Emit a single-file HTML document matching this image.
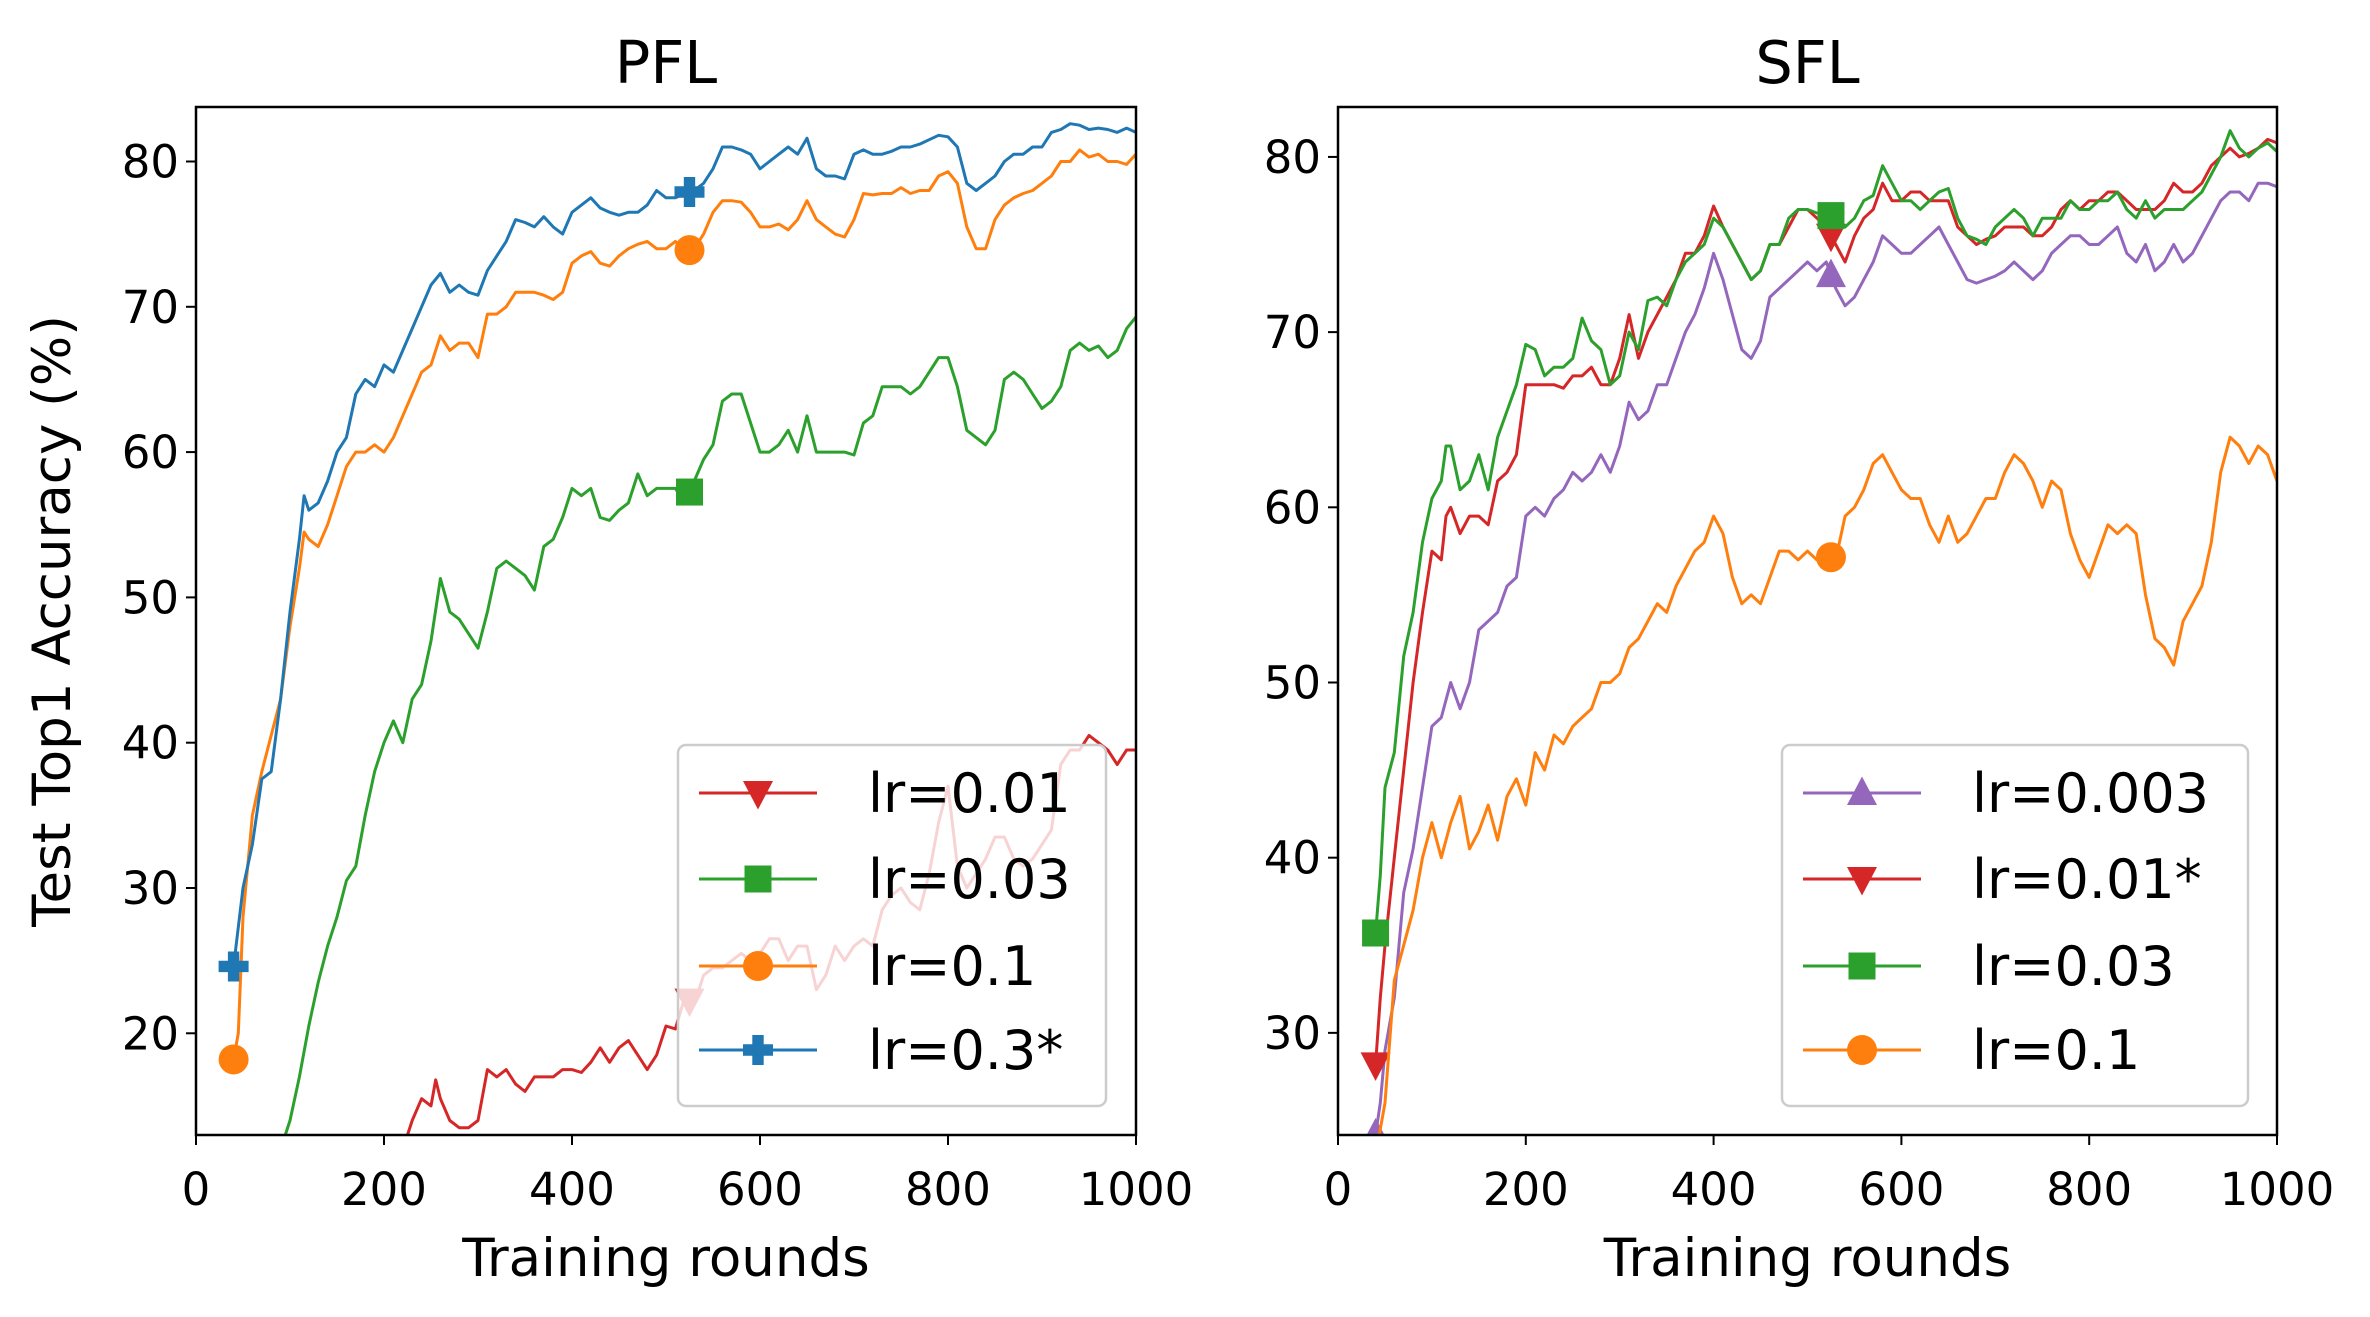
<!DOCTYPE html>
<html><head><meta charset="utf-8"><style>
html,body{margin:0;padding:0;background:#fff;overflow:hidden;}
svg{display:block;font-family:"DejaVu Sans","Liberation Sans",sans-serif;}
</style></head><body>
<svg id="chart" width="2370" height="1317" viewBox="0 0 2370 1317"></svg>
<script>
// ---- PFL data ----
const pflBlueX=[40,50,60,70,80,90,100,110,115,120,130,140,150,160,170,180,190,200,210,220,230,240,250,260,270,280,290,300,310,320,330,340,350,360,370,380,390,400,410,420,430,440,450,460,470,480,490,500,510,520,530,540,550,560,570,580,590,600,610,620,630,640,650,660,670,680,690,700,710,720,730,740,750,760,770,780,790,800,810,820,830,840,850,860,870,880,890,900,910,920,930,940,950,960,970,980,990,1000];
const pflBlueY=[24.6,30,33,37.5,38,43,49,54,57,56,56.5,58,60,61,64,65,64.5,66,65.5,67,68.5,70,71.5,72.3,71,71.5,71,70.8,72.5,73.5,74.5,76,75.8,75.5,76.2,75.5,75,76.5,77,77.5,76.8,76.5,76.3,76.5,76.5,77,78,77.5,77.5,77.8,78,78.5,79.5,81,81,80.8,80.5,79.5,80,80.5,81,80.5,81.6,79.5,79,79,78.8,80.5,80.8,80.5,80.5,80.7,81,81,81.2,81.5,81.8,81.7,81,78.5,78,78.5,79,80,80.5,80.5,81,81,82,82.2,82.6,82.5,82.2,82.3,82.2,82,82.3,82];
const pflOrangeX=[40,45,50,60,70,80,90,100,110,115,120,130,140,150,160,170,180,190,200,210,220,230,240,250,260,270,280,290,300,310,320,330,340,350,360,370,380,390,400,410,420,430,440,450,460,470,480,490,500,510,520,530,540,550,560,570,580,590,600,610,620,630,640,650,660,670,680,690,700,710,720,730,740,750,760,770,780,790,800,810,820,830,840,850,860,870,880,890,900,910,920,930,940,950,960,970,980,990,1000];
const pflOrangeY=[18.2,20,28,35,38,40.5,43,48,52,54.5,54,53.5,55,57,59,60,60,60.5,60,61,62.5,64,65.5,66,68,67,67.5,67.5,66.5,69.5,69.5,70,71,71,71,70.8,70.5,71,73,73.5,73.8,73,72.8,73.5,74,74.3,74.5,74,74,74.5,73.8,74,75,76.5,77.3,77.3,77.2,76.5,75.5,75.5,75.7,75.3,76,77.3,76,75.5,75,74.8,76,77.8,77.7,77.8,77.8,78.2,77.8,78,78,79,79.3,78.5,75.5,74,74,76,77,77.5,77.8,78,78.5,79,80,80,80.8,80.3,80.5,80,80,79.8,80.5];
const pflGreenX=[40,95,100,110,120,130,140,150,160,170,180,190,200,210,220,230,240,250,260,270,280,290,300,310,320,330,340,350,360,370,380,390,400,410,420,430,440,450,460,470,480,490,500,510,520,530,540,550,560,570,580,590,600,610,620,630,640,650,660,670,680,690,700,710,720,730,740,750,760,770,780,790,800,810,820,830,840,850,860,870,880,890,900,910,920,930,940,950,960,970,980,990,1000];
const pflGreenY=[-5,13,14,17,20.5,23.5,26,28,30.5,31.5,35,38,40,41.5,40,43,44,47,51.3,49,48.5,47.5,46.5,49,52,52.5,52,51.5,50.5,53.5,54,55.5,57.5,57,57.5,55.5,55.3,56,56.5,58.5,57,57.5,57.5,57.5,56.5,58,59.5,60.5,63.5,64,64,62,60,60,60.5,61.5,60,62.5,60,60,60,60,59.8,62,62.5,64.5,64.5,64.5,64,64.5,65.5,66.5,66.5,64.5,61.5,61,60.5,61.5,65,65.5,65,64,63,63.5,64.5,67,67.5,67,67.3,66.5,67,68.5,69.3];
const pflRedX=[40,225,230,240,250,255,260,270,280,290,300,310,320,330,340,350,360,370,380,390,400,410,420,430,440,450,460,470,480,490,500,510,520,530,540,550,560,570,580,590,600,610,620,630,640,650,660,670,680,690,700,710,720,730,740,750,760,770,780,790,800,810,820,830,840,850,860,870,880,890,900,910,920,930,940,950,960,970,980,990,1000];
const pflRedY=[-20,13,14,15.5,15,16.8,15.5,14,13.5,13.5,14,17.5,17,17.5,16.5,16,17,17,17,17.5,17.5,17.3,18,19,18,19,19.5,18.5,17.5,18.5,20.5,20.3,22.5,22,24,24.5,24.5,25,25.5,25,25.5,26.5,26.5,25,26,26,23,24,26,25,26,26.5,26,28.5,29.5,30,29,28.5,31,34.5,37,31.5,30,31,32,33.5,33.5,32,31.5,32,33,34,38.5,39.5,39.5,40.5,40,39.5,38.5,39.5,39.5];
// ---- SFL data ----
const sflGreenX=[40,45,50,60,70,80,90,100,110,115,120,130,140,150,160,170,180,190,200,210,220,230,240,250,260,270,280,290,300,310,320,330,340,350,360,370,380,390,400,410,420,430,440,450,460,470,480,490,500,510,520,530,540,550,560,570,580,590,600,610,620,630,640,650,660,670,680,690,700,710,720,730,740,750,760,770,780,790,800,810,820,830,840,850,860,870,880,890,900,910,920,930,940,950,960,970,980,990,1000];
const sflGreenY=[35.7,39,44,46,51.5,54,58,60.5,61.5,63.5,63.5,61,61.5,63,61,64,65.5,67,69.3,69,67.5,68,68,68.5,70.8,69.5,69,67,67.5,70,69,71.8,72,71.5,73,74,74.5,75,76.5,76,75,74,73,73.5,75,75,76.5,77,77,76.8,76.8,76.5,76,76.5,77.5,77.8,79.5,78.5,77.5,77.5,77,77.5,78,78.2,76.5,75.5,75.3,75,76,76.5,77,76.5,75.5,76.5,76.5,76.5,77.5,77,77,77.5,77.5,78,77,76.5,77.5,76.5,77,77,77,77.5,78,79,80,81.5,80.5,80,80.5,80.8,80.3];
const sflRedX=[40,45,50,60,70,80,90,100,110,115,120,130,140,150,160,170,180,190,200,210,220,230,240,250,260,270,280,290,300,310,320,330,340,350,360,370,380,390,400,410,420,430,440,450,460,470,480,490,500,510,520,530,540,550,560,570,580,590,600,610,620,630,640,650,660,670,680,690,700,710,720,730,740,750,760,770,780,790,800,810,820,830,840,850,860,870,880,890,900,910,920,930,940,950,960,970,980,990,1000];
const sflRedY=[28.2,32,35,40,45,50,54,57.5,57,59.5,60,58.5,59.5,59.5,59,61.5,62,63,67,67,67,67,66.8,67.5,67.5,68,67,67,68.5,71,68.5,70,71,72,73,74.5,74.5,75.5,77.2,76,75,74,73,73.5,75,75,76,77,77,76.5,76,75,74,75.5,76.5,77,78.5,77.5,77.5,78,78,77.5,77.5,77.5,76,75.5,75,75.3,75.5,76,76,76,75.5,75.5,76,77,77.5,77,77.5,77.5,78,78,77.5,77,77,77,77.5,78.5,78,78,78.5,79.5,80,80.5,80,80.2,80.5,81,80.8];
const sflPurpleX=[40,45,50,60,70,80,90,100,110,120,130,140,150,160,170,180,190,200,210,220,230,240,250,260,270,280,290,300,310,320,330,340,350,360,370,380,390,400,410,420,430,440,450,460,470,480,490,500,510,520,530,540,550,560,570,580,590,600,610,620,630,640,650,660,670,680,690,700,710,720,730,740,750,760,770,780,790,800,810,820,830,840,850,860,870,880,890,900,910,920,930,940,950,960,970,980,990,1000];
const sflPurpleY=[24.2,26,29,32,38,40.5,44,47.5,48,50,48.5,50,53,53.5,54,55.5,56,59.5,60,59.5,60.5,61,62,61.5,62,63,62,63.5,66,65,65.5,67,67,68.5,70,71,72.5,74.5,73,71,69,68.5,69.5,72,72.5,73,73.5,74,73.5,74,72.5,71.5,72,73,74,75.5,75,74.5,74.5,75,75.5,76,75,74,73,72.8,73,73.2,73.5,74,73.5,73,73.5,74.5,75,75.5,75.5,75,75,75.5,76,74.5,74,75,73.5,74,75,74,74.5,75.5,76.5,77.5,78,78,77.5,78.5,78.5,78.3];
const sflOrangeX=[40,50,60,70,80,90,100,110,120,130,140,150,160,170,180,190,200,210,220,230,240,250,260,270,280,290,300,310,320,330,340,350,360,370,380,390,400,410,420,430,440,450,460,470,480,490,500,510,520,530,540,550,560,570,580,590,600,610,620,630,640,650,660,670,680,690,700,710,720,730,740,750,760,770,780,790,800,810,820,830,840,850,860,870,880,890,900,910,920,930,940,950,960,970,980,990,1000];
const sflOrangeY=[23,26,33,35,37,40,42,40,42,43.5,40.5,41.5,43,41,43.5,44.5,43,46,45,47,46.5,47.5,48,48.5,50,50,50.5,52,52.5,53.5,54.5,54,55.5,56.5,57.5,58,59.5,58.5,56,54.5,55,54.5,56,57.5,57.5,57,57.5,57,57.3,57,59.5,60,61,62.5,63,62,61,60.5,60.5,59,58,59.5,58,58.5,59.5,60.5,60.5,62,63,62.5,61.5,60,61.5,61,58.5,57,56,57.5,59,58.5,59,58.5,55,52.5,52,51,53.5,54.5,55.5,58,62,64,63.5,62.5,63.5,63,61.5];
const xTicks=[0,200,400,600,800,1000];
const pflYTicks=[20,30,40,50,60,70,80];
const sflYTicks=[30,40,50,60,70,80];
const pflLabels=['lr=0.01','lr=0.03','lr=0.1','lr=0.3*'];
const sflLabels=['lr=0.003','lr=0.01*','lr=0.03','lr=0.1'];

const NS='http://www.w3.org/2000/svg';
const svg=document.getElementById('chart');
function mk(tag,attrs,parent){const e=document.createElementNS(NS,tag);for(const k in attrs)e.setAttribute(k,attrs[k]);(parent||svg).appendChild(e);return e;}
const C={red:'#d62728',green:'#2ca02c',orange:'#ff7f0e',blue:'#1f77b4',purple:'#9467bd'};

function interp(xs,ys,x){for(let i=1;i<xs.length;i++){if(xs[i]>=x){const t=(x-xs[i-1])/(xs[i]-xs[i-1]);return ys[i-1]+t*(ys[i]-ys[i-1]);}}return ys[ys.length-1];}

function marker(g,type,cx,cy,color,s){
  let m;
  if(type==='circle'){m=mk('circle',{cx:cx,cy:cy,r:s,fill:color},g);}
  else if(type==='square'){m=mk('rect',{x:cx-s*0.9,y:cy-s*0.9,width:s*1.8,height:s*1.8,fill:color},g);}
  else if(type==='tdown'){m=mk('polygon',{points:`${cx-s},${cy-s*0.8} ${cx+s},${cy-s*0.8} ${cx},${cy+s*1.1}`,fill:color},g);}
  else if(type==='tup'){m=mk('polygon',{points:`${cx-s},${cy+s*0.8} ${cx+s},${cy+s*0.8} ${cx},${cy-s*1.1}`,fill:color},g);}
  else {const a=s*0.38;m=mk('path',{d:`M${cx-a},${cy-s}h${2*a}v${s-a}h${s-a}v${2*a}h${-(s-a)}v${s-a}h${-2*a}v${-(s-a)}h${-(s-a)}v${-2*a}h${s-a}z`,fill:color},g);}
  
  
}

function panel(o){
  const L=o.L,R=o.R,T=107,B=1135;
  const sx=v=>L+(v-0)/1000*(R-L);
  const sy=v=>B-(v-o.ymin)/(o.ymax-o.ymin)*(B-T);
  const g=mk('g',{});
  
  
  const cid='clip-'+o.name;
  const cp=mk('clipPath',{id:cid},g);mk('rect',{x:L,y:T,width:R-L,height:B-T},cp);
  const sg=mk('g',{'clip-path':`url(#${cid})`},g);
  o.series.forEach(s=>{
    const d=s.x.map((x,i)=>(i?'L':'M')+sx(x).toFixed(1)+','+sy(s.y[i]).toFixed(1)).join('');
    const p=mk('path',{d:d,fill:'none',stroke:s.c,'stroke-width':3,'stroke-linejoin':'round'},sg);
    
    
    [s.x[0],525].forEach(mx=>{marker(sg,s.m,sx(mx),sy(interp(s.x,s.y,mx)),s.c,15);});
  });
  const frame=mk('rect',{x:L,y:T,width:R-L,height:B-T,fill:'none',stroke:'#000','stroke-width':2.5},g);
  
  
  xTicks.forEach(t=>{
    mk('line',{x1:sx(t),x2:sx(t),y1:B,y2:B+10,stroke:'#000','stroke-width':2},g);
    const tx=mk('text',{x:sx(t),y:1205,'font-size':45,'text-anchor':'middle'},g);tx.textContent=t;
    
    
  });
  o.yt.forEach(t=>{
    mk('line',{x1:L-10,x2:L,y1:sy(t),y2:sy(t),stroke:'#000','stroke-width':2},g);
    const tx=mk('text',{x:L-17,y:sy(t)+16,'font-size':45,'text-anchor':'end'},g);tx.textContent=t;
    
    
  });
  const xl=mk('text',{x:(L+R)/2,y:1276,'font-size':53,'text-anchor':'middle'},g);xl.textContent='Training rounds';
  
  
  const ti=mk('text',{x:(L+R)/2,y:83,'font-size':59,'text-anchor':'middle'},g);ti.textContent=o.title;
  
  
  // legend
  const lg=mk('g',{},g);
  
  
  mk('rect',{x:o.lx,y:745,width:o.lw,height:361,rx:8,fill:'#fff','fill-opacity':0.8,stroke:'#ccc','stroke-width':2.5},lg);
  const ys=[793,879,966,1050];
  o.legend.forEach((s,i)=>{
    const e=mk('g',{},lg);
    
    
    mk('line',{x1:o.lx+21,x2:o.lx+139,y1:ys[i],y2:ys[i],stroke:s.c,'stroke-width':3},e);
    marker(e,s.m,o.lx+80,ys[i],s.c,15);
    const t=mk('text',{x:o.lx+190,y:ys[i]+19,'font-size':54},e);t.textContent=s.label;
  });
}

const pS=[
 {x:pflRedX,y:pflRedY,c:C.red,m:'tdown',label:pflLabels[0]},
 {x:pflGreenX,y:pflGreenY,c:C.green,m:'square',label:pflLabels[1]},
 {x:pflOrangeX,y:pflOrangeY,c:C.orange,m:'circle',label:pflLabels[2]},
 {x:pflBlueX,y:pflBlueY,c:C.blue,m:'plus',label:pflLabels[3]}];
panel({name:'pfl',title:'PFL',L:196,R:1136,ymin:13,ymax:83.75,yt:pflYTicks,series:pS,legend:pS,lx:678,lw:428});
const sS=[
 {x:sflPurpleX,y:sflPurpleY,c:C.purple,m:'tup',label:sflLabels[0]},
 {x:sflRedX,y:sflRedY,c:C.red,m:'tdown',label:sflLabels[1]},
 {x:sflGreenX,y:sflGreenY,c:C.green,m:'square',label:sflLabels[2]},
 {x:sflOrangeX,y:sflOrangeY,c:C.orange,m:'circle',label:sflLabels[3]}];
panel({name:'sfl',title:'SFL',L:1338,R:2277,ymin:24.17,ymax:82.85,yt:sflYTicks,series:sS,legend:sS,lx:1782,lw:466});

const yl=mk('text',{x:0,y:0,'font-size':53,'text-anchor':'middle',transform:'translate(70,621) rotate(-90)'});
yl.textContent='Test Top1 Accuracy (%)';


</script>
</body></html>
